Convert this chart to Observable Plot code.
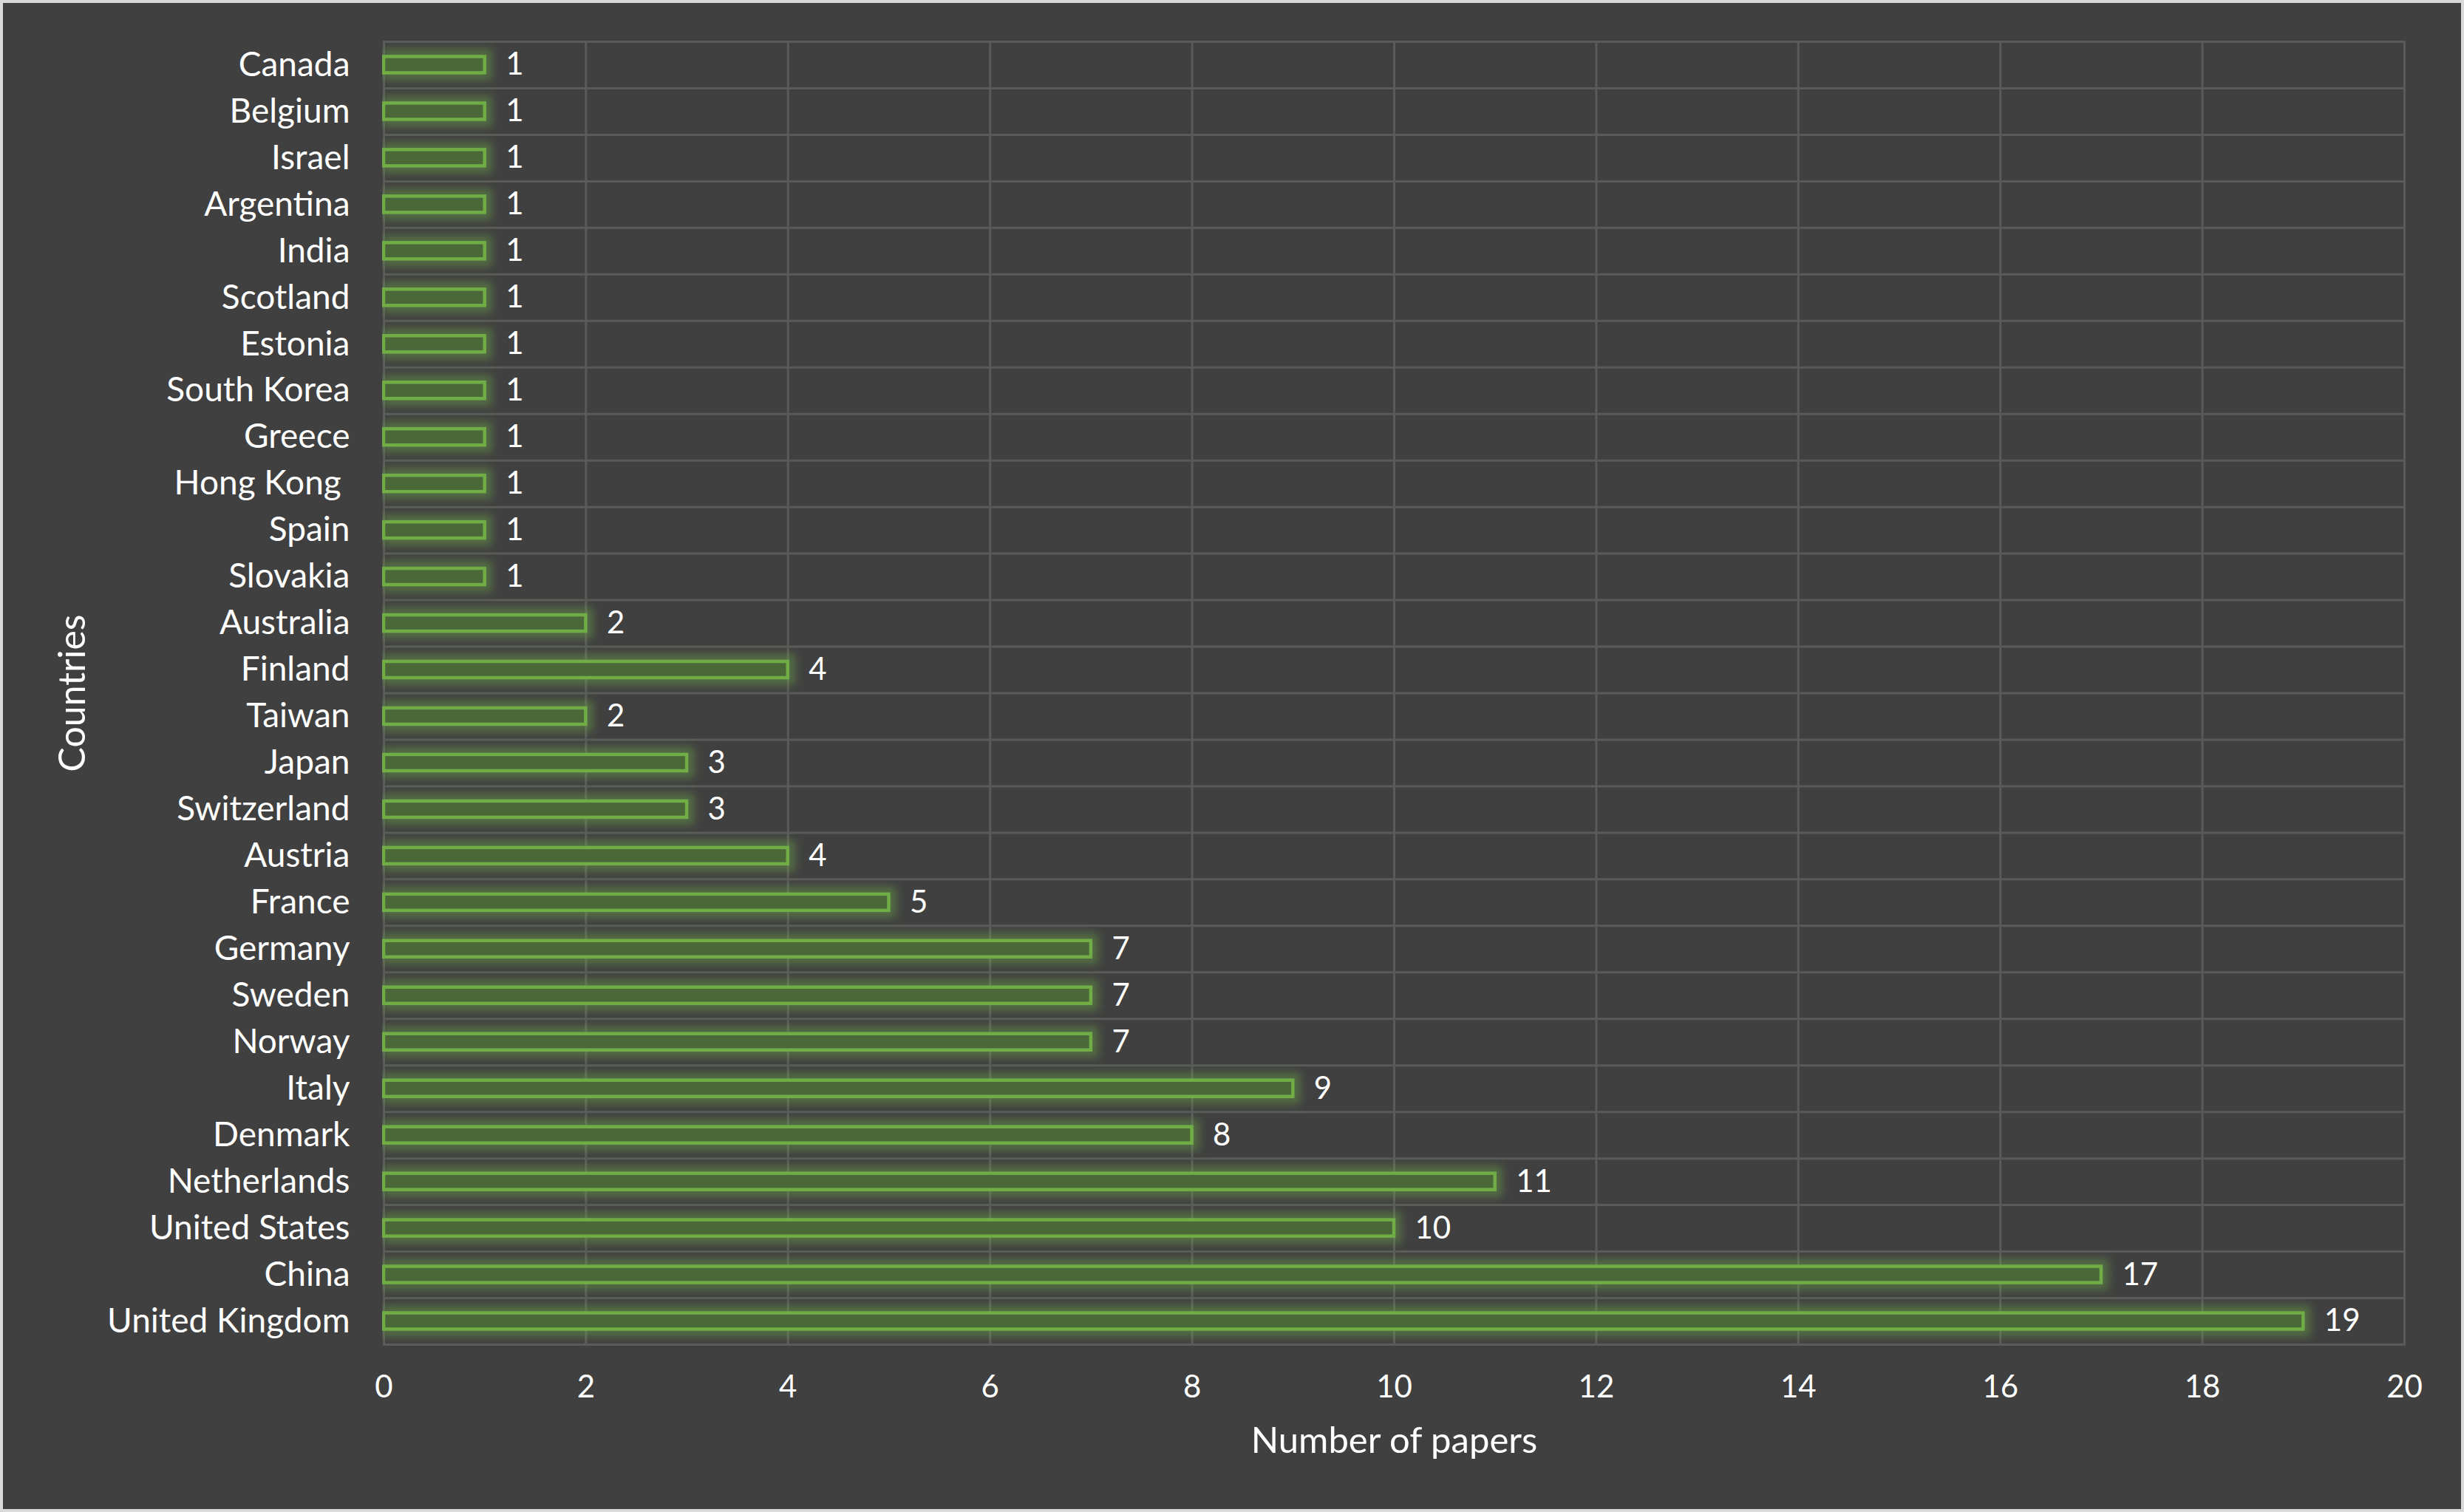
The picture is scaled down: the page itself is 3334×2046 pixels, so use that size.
<!DOCTYPE html>
<html>
<head>
<meta charset="utf-8">
<script src="https://cdn.jsdelivr.net/npm/d3@7"></script>
<script src="https://cdn.jsdelivr.net/npm/@observablehq/plot@0.6"></script>
<style>
  html, body { margin: 0; padding: 0; background: #404040; }
  #chart svg { display: block; outline: 4px solid #d9d9d9; outline-offset: -4px; }
</style>
</head>
<body>
<div id="chart"></div>
<script>
// Data (top to bottom as displayed)
const countries = ["Canada", "Belgium", "Israel", "Argentina", "India", "Scotland", "Estonia",
  "South Korea", "Greece", "Hong Kong\u00a0", "Spain", "Slovakia", "Australia", "Finland", "Taiwan",
  "Japan", "Switzerland", "Austria", "France", "Germany", "Sweden", "Norway", "Italy", "Denmark",
  "Netherlands", "United States", "China", "United Kingdom"];
const papers = [1, 1, 1, 1, 1, 1, 1, 1, 1, 1, 1, 1, 2, 4, 2, 3, 3, 4, 5, 7, 7, 7, 9, 8, 11, 10, 17, 19];
const xTicks = [0, 2, 4, 6, 8, 10, 12, 14, 16, 18, 20];
const xTitle = "Number of papers";
const yTitle = "Countries";

const data = countries.map((c, i) => ({country: c, value: papers[i]}));

const W = 3334, H = 2046;
const mL = 519, mR = 81, mT = 56, mB = 227;
const step = (H - mT - mB) / countries.length;
const grid = "#5a5a5a";
const font = "Lato, 'Open Sans', sans-serif";

const chart = Plot.plot({
  width: W,
  height: H,
  marginLeft: mL,
  marginRight: mR,
  marginTop: mT,
  marginBottom: mB,
  style: {background: "#404040", color: "#ffffff", fontFamily: font, fontSize: "42px"},
  x: {domain: [0, 20], ticks: xTicks, label: null},
  y: {domain: countries, paddingInner: 0.65, paddingOuter: 0.325, round: false, label: null},
  marks: [
    Plot.gridX(xTicks, {stroke: grid, strokeOpacity: 1, strokeWidth: 3}),
    Plot.ruleY(countries.slice(1), {y: d => d, dy: -step / 2, stroke: grid, strokeWidth: 3}),
    Plot.frame({stroke: grid, strokeWidth: 3}),
    Plot.barX(data, {x: "value", y: "country", fill: "#4b6738", stroke: "#70ad47", strokeWidth: 4.5}),
    Plot.text(data, {x: "value", y: "country", text: d => String(d.value), textAnchor: "start", dx: 28, fill: "#ffffff", fontSize: 42}),
    Plot.axisX({ticks: xTicks, tickSize: 0, tickPadding: 42, fontSize: 42, label: null}),
    Plot.axisY({tickSize: 0, tickPadding: 46, fontSize: 46, label: null}),
    Plot.text([xTitle], {frameAnchor: "bottom", lineAnchor: "middle", dy: 131, fontSize: 49, fill: "#ffffff"}),
    Plot.text([yTitle], {frameAnchor: "left", textAnchor: "middle", lineAnchor: "middle", dx: -(mL - 98), rotate: -90, fontSize: 50, fill: "#ffffff"})
  ]
});

// Soft green glow around the bars (clipped at the value axis origin)
const defs = d3.select(chart).insert("defs", ":first-child");
const f = defs.append("filter").attr("id", "glow")
  .attr("filterUnits", "userSpaceOnUse").attr("x", mL - 2).attr("y", 0).attr("width", W - mL).attr("height", H);
f.append("feMorphology").attr("in", "SourceAlpha").attr("operator", "dilate").attr("radius", 8).attr("result", "d");
f.append("feGaussianBlur").attr("in", "d").attr("stdDeviation", 6).attr("result", "b");
f.append("feFlood").attr("flood-color", "#70ad47").attr("flood-opacity", 0.42);
f.append("feComposite").attr("in2", "b").attr("operator", "in").attr("result", "g");
const m = f.append("feMerge");
m.append("feMergeNode").attr("in", "g");
m.append("feMergeNode").attr("in", "SourceGraphic");
d3.select(chart).selectAll('g[aria-label="bar"]').attr("filter", "url(#glow)");

document.getElementById("chart").appendChild(chart);
</script>
</body>
</html>
